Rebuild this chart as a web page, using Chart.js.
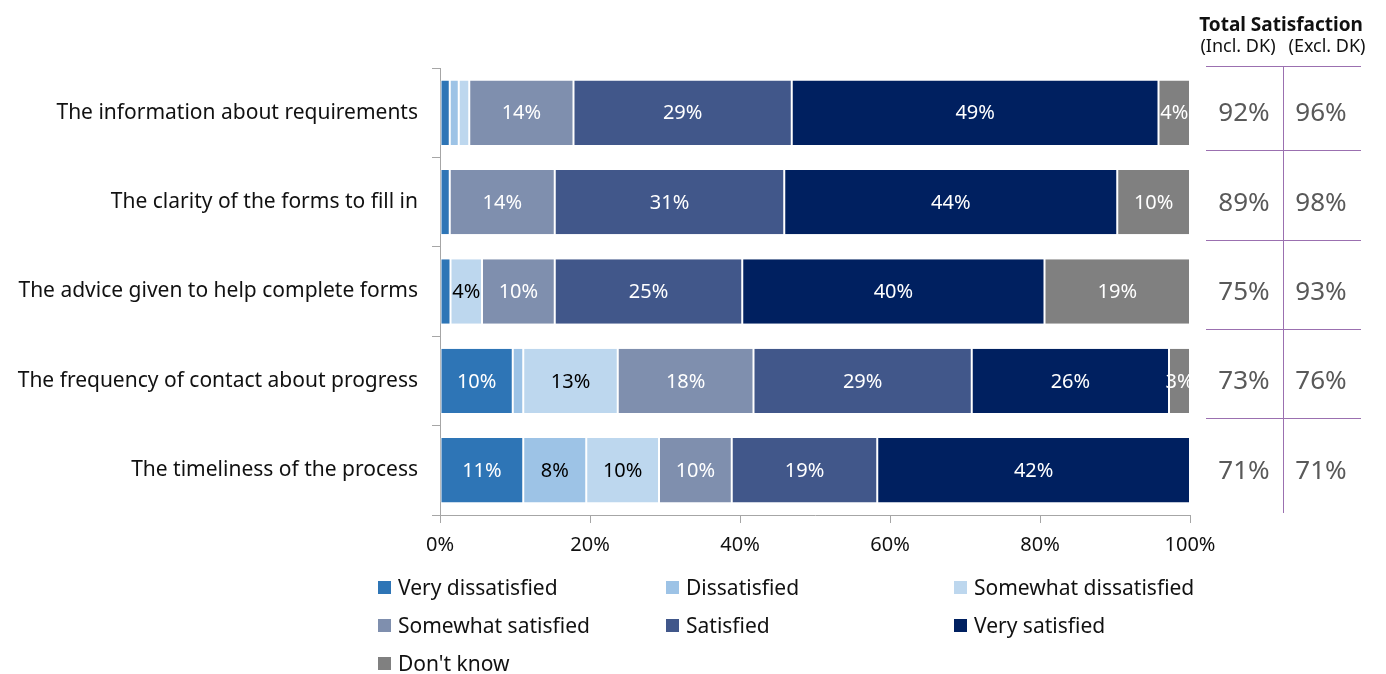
<!DOCTYPE html>
<html>
<head>
<meta charset="utf-8">
<script src="https://cdn.jsdelivr.net/npm/chart.js@4"></script>
<style>
    html, body { margin: 0; padding: 0; background: #fff; }
    #wrap { position: relative; width: 1386px; height: 674px; }
    #legend { position: absolute; left: 0; top: 0; }
    .item { position: absolute; display: flex; align-items: center; font: 21px "Noto Sans", sans-serif; color: #111; white-space: nowrap; }
    .box { width: 13px; height: 13px; margin-right: 7px; }
</style>
</head>
<body>
<div id="wrap">
    <canvas id="chart" width="1386" height="674"></canvas>
    <div id="legend"></div>
</div>
<script>
const categories = [
    'The information about requirements',
    'The clarity of the forms to fill in',
    'The advice given to help complete forms',
    'The frequency of contact about progress',
    'The timeliness of the process'
];

const seriesNames = ['Very dissatisfied', 'Dissatisfied', 'Somewhat dissatisfied', 'Somewhat satisfied', 'Satisfied', 'Very satisfied', "Don't know"];
const seriesColors = ['#2E75B6', '#9DC3E6', '#BDD7EE', '#7F8FAE', '#41578A', '#002060', '#808080'];
const labelColors = ['#fff', '#000', '#000', '#fff', '#fff', '#fff', '#fff'];

const veryDissatisfied     = [1.3, 1.3, 1.4, 9.7, 11.1];
const dissatisfied         = [1.2, 0, 0, 1.4, 8.4];
const somewhatDissatisfied = [1.4, 0, 4.2, 12.6, 9.7];
const somewhatSatisfied    = [13.9, 14.0, 9.7, 18.1, 9.7];
const satisfied            = [29.1, 30.6, 25.0, 29.1, 19.4];
const verySatisfied        = [48.9, 44.4, 40.3, 26.3, 41.7];
const dontKnow             = [4.2, 9.7, 19.4, 2.8, 0];

const totalInclDK = ['92%', '89%', '75%', '73%', '71%'];
const totalExclDK = ['96%', '98%', '93%', '76%', '71%'];

const xTicks = [0, 20, 40, 60, 80, 100];

const allSeries = [veryDissatisfied, dissatisfied, somewhatDissatisfied, somewhatSatisfied, satisfied, verySatisfied, dontKnow];
const FONT = '"Noto Sans", sans-serif';

// value labels inside each segment
const segmentLabels = {
    id: 'segmentLabels',
    afterDatasetsDraw(chart) {
        const ctx = chart.ctx;
        ctx.save();
        ctx.font = '20px ' + FONT;
        ctx.textAlign = 'center';
        ctx.textBaseline = 'middle';
        chart.data.datasets.forEach((ds, i) => {
            chart.getDatasetMeta(i).data.forEach((bar, j) => {
                const v = Math.round(ds.data[j]);
                if (v < 3) return;
                ctx.fillStyle = labelColors[i];
                ctx.fillText(v + '%', (bar.x + bar.base) / 2, bar.y + 1);
            });
        });
        ctx.restore();
    }
};

// "Total Satisfaction" table on the right
const totalsTable = {
    id: 'totalsTable',
    afterDraw(chart) {
        const ctx = chart.ctx;
        const y = chart.scales.y;
        const step = y.getPixelForValue(1) - y.getPixelForValue(0);
        const colA = 1244, colB = 1321, mid = 1283;
        ctx.save();
        ctx.fillStyle = '#111';
        ctx.textAlign = 'center';
        ctx.textBaseline = 'alphabetic';
        ctx.font = 'bold 19px ' + FONT;
        ctx.fillText('Total Satisfaction', 1281, 31);
        ctx.font = '18px ' + FONT;
        ctx.fillText('(Incl. DK)', 1238, 52);
        ctx.fillText('(Excl. DK)', 1327, 52);

        ctx.strokeStyle = '#9B70B0';
        ctx.lineWidth = 1;
        ctx.beginPath();
        ctx.moveTo(1206, 66.5);
        ctx.lineTo(1361, 66.5);
        for (let i = 0; i < categories.length - 1; i++) {
            const ly = Math.round(y.getPixelForValue(i) + step * 0.42) + 0.5;
            ctx.moveTo(1206, ly);
            ctx.lineTo(1361, ly);
        }
        ctx.moveTo(mid + 0.5, 66);
        ctx.lineTo(mid + 0.5, 513);
        ctx.stroke();

        ctx.fillStyle = '#595959';
        ctx.font = '26px ' + FONT;
        ctx.textBaseline = 'middle';
        categories.forEach((c, i) => {
            const cy = y.getPixelForValue(i) + 1;
            ctx.fillText(totalInclDK[i], colA, cy);
            ctx.fillText(totalExclDK[i], colB, cy);
        });
        ctx.restore();
    }
};

const chart = new Chart(document.getElementById('chart'), {
    type: 'bar',
    data: {
        labels: categories,
        datasets: seriesNames.map((name, i) => ({
            label: name,
            data: allSeries[i],
            backgroundColor: seriesColors[i],
            borderColor: '#fff',
            borderWidth: { left: 1, right: 1, top: 0, bottom: 0 },
            borderSkipped: false,
            categoryPercentage: 0.72,
            barPercentage: 1
        }))
    },
    options: {
        indexAxis: 'y',
        responsive: false,
        animation: false,
        events: [],
        layout: { padding: { top: 68, right: 196, left: 0, bottom: 0 } },
        plugins: { legend: { display: false }, tooltip: { enabled: false } },
        scales: {
            x: {
                stacked: true,
                min: 0,
                max: 100,
                afterBuildTicks: (axis) => { axis.ticks = xTicks.map(v => ({ value: v })); },
                afterFit: (axis) => { axis.height = 159; },
                border: { color: '#A6A6A6', width: 1 },
                grid: { drawOnChartArea: false, tickLength: 8, color: '#A6A6A6' },
                ticks: {
                    padding: 10,
                    color: '#111',
                    font: { family: FONT, size: 20 },
                    callback: v => v + '%'
                }
            },
            y: {
                stacked: true,
                afterFit: (axis) => { axis.width = 440; },
                border: { color: '#A6A6A6', width: 1 },
                grid: { offset: true, drawOnChartArea: false, tickLength: 8, color: '#A6A6A6' },
                ticks: {
                    padding: 14,
                    color: '#111',
                    font: { family: FONT, size: 21 }
                }
            }
        }
    },
    plugins: [segmentLabels, totalsTable]
});

// legend in three fixed columns below the axis
const legend = document.getElementById('legend');
seriesNames.forEach((name, i) => {
    const item = document.createElement('div');
    item.className = 'item';
    item.style.left = (378 + (i % 3) * 288) + 'px';
    item.style.top = (573 + Math.floor(i / 3) * 38) + 'px';
    item.innerHTML = '<span class="box" style="background:' + seriesColors[i] + '"></span>' + name;
    legend.appendChild(item);
});
</script>
</body>
</html>
